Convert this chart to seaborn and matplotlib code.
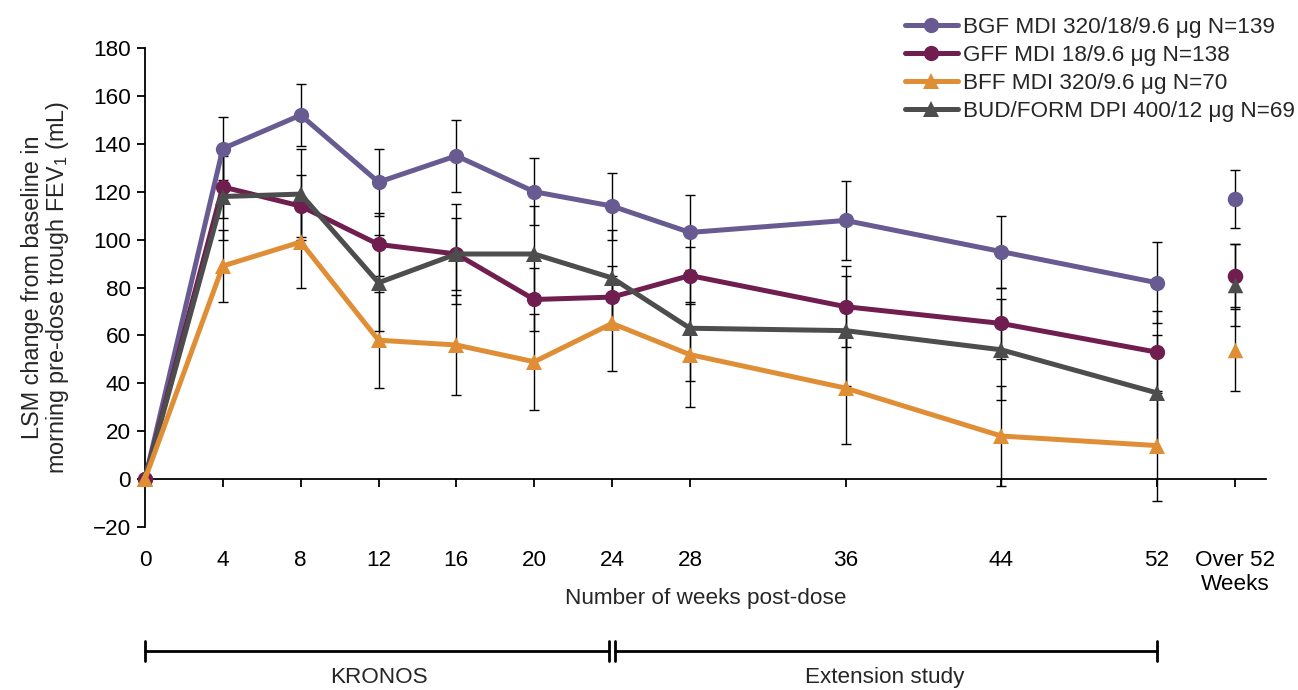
import numpy as np
import pandas as pd
import matplotlib
matplotlib.use("Agg")
import matplotlib.pyplot as plt
from matplotlib.lines import Line2D
import seaborn as sns

# --------------------------------------------
# DATA
# --------------------------------------------
weeks = [0, 4, 8, 12, 16, 20, 24, 28, 36, 44, 52]
over_week = 56  # position used for the "Over 52 Weeks" column
tick_labels = ["0", "4", "8", "12", "16", "20", "24", "28", "36", "44", "52", "Over 52\nWeeks"]

series = ["BGF MDI 320/18/9.6 μg N=139",
          "GFF MDI 18/9.6 μg N=138",
          "BFF MDI 320/9.6 μg N=70",
          "BUD/FORM DPI 400/12 μg N=69"]

bgf_mean = [0, 138, 152, 124, 135, 120, 114, 103, 108, 95, 82]
gff_mean = [0, 122, 114, 98, 94, 75, 76, 85, 72, 65, 53]
bff_mean = [0, 89, 99, 58, 56, 49, 65, 52, 38, 18, 14]
bud_mean = [0, 118, 119, 82, 94, 94, 84, 63, 62, 54, 36]

bgf_err = [0, 13, 13, 14, 15, 14, 14, 15.5, 16.5, 15, 17]
gff_err = [0, 13, 13, 13, 15, 13, 13, 12, 17, 15, 17]
bff_err = [0, 15, 19, 20, 21, 20, 20, 22, 23.5, 21, 23]
bud_err = [0, 18, 19, 20, 21, 20, 20, 22, 23, 21, 24]

over_mean = [117, 85, 54, 81]
over_err = [12, 13, 17, 17]

periods = ["KRONOS", "Extension study"]
period_start = [0, 24]
period_end = [24, 52]

colors = ["#675B91", "#701E50", "#E08E36", "#4D4D4D"]
markers = ["o", "o", "^", "^"]

means = [bgf_mean, gff_mean, bff_mean, bud_mean]
errs = [bgf_err, gff_err, bff_err, bud_err]

# --------------------------------------------
# SETTINGS
# --------------------------------------------
sns.set_style("ticks")
plt.rcParams["font.family"] = ["Liberation Sans", "DejaVu Sans"]
plt.rcParams["mathtext.default"] = "regular"
FS = 16.2

fig = plt.figure(figsize=(12.98, 6.9), dpi=100)
ax = fig.add_axes([0.1117, 0.2362, 0.8636, 0.6942])

# draw order: BGF, GFF, BUD, BFF (orange ends on top)
order = [0, 1, 3, 2]
for i in order:
    ax.errorbar(weeks, means[i], yerr=errs[i], fmt="none", ecolor="black",
                elinewidth=1.0, capsize=3.3, capthick=1.0, zorder=2, clip_on=False)
    ax.errorbar([over_week], [over_mean[i]], yerr=[over_err[i]], fmt="none",
                ecolor="black", elinewidth=1.0, capsize=3.3, capthick=1.0, zorder=2)

for z, i in enumerate(order):
    df = pd.DataFrame({"week": weeks, "value": means[i]})
    sns.lineplot(data=df, x="week", y="value", ax=ax, color=colors[i],
                 marker=markers[i], markersize=11, markeredgewidth=0,
                 linewidth=3.6, zorder=3 + z, clip_on=False)
    sns.scatterplot(x=[over_week], y=[over_mean[i]], ax=ax, color=colors[i],
                    marker=markers[i], s=125, linewidth=0, zorder=3 + z)

# --------------------------------------------
# AXES
# --------------------------------------------
ax.set_xlim(0, 57.6)
ax.set_ylim(-20, 180)
ax.set_yticks(np.arange(-20, 181, 20))
ax.set_yticklabels(["\u221220"] + [str(v) for v in range(0, 181, 20)])
ax.set_xticks(weeks + [over_week])
ax.set_xticklabels(tick_labels, linespacing=1.2)

for s in ["top", "right"]:
    ax.spines[s].set_visible(False)
ax.spines["bottom"].set_position(("data", 0))
ax.spines["left"].set_position(("data", 0))
for s in ["bottom", "left"]:
    ax.spines[s].set_linewidth(1.3)
    ax.spines[s].set_color("black")

ax.tick_params(axis="both", colors="black", labelsize=FS, width=1.3, length=6,
               direction="out")
ax.tick_params(axis="x", pad=45)
ax.tick_params(axis="y", pad=4)

ax.set_ylabel("LSM change from baseline in\nmorning pre-dose trough FEV$_1$ (mL)",
              fontsize=16.8, linespacing=1.0)
ax.yaxis.set_label_coords(-0.066, 0.5)
ax.set_xlabel("Number of weeks post-dose", fontsize=FS)
ax.xaxis.set_label_coords(0.5, -0.127)
ax.xaxis.label.set_va("top")

# study period brackets
trans = ax.get_xaxis_transform()
gap = 0.15
y_br = -0.2589
cap = 0.021
for k, (a, b) in enumerate(zip(period_start, period_end)):
    a2 = a + gap if k > 0 else a
    b2 = b - gap if k == 0 else b
    ax.plot([a2, b2], [y_br, y_br], color="black", lw=2.0, transform=trans, clip_on=False)
    for xe in (a2, b2):
        ax.plot([xe, xe], [y_br - cap, y_br + cap], color="black", lw=2.0,
                transform=trans, clip_on=False)
    ax.text((a + b) / 2, -0.315, periods[k], transform=trans, ha="center",
            va="center", fontsize=FS)

# legend
handles = [Line2D([0], [0], color=colors[i], marker=markers[i], lw=3.6,
                  markersize=11, markeredgewidth=0) for i in range(4)]
fig.legend(handles, series, loc="upper left", bbox_to_anchor=(0.697, 0.975),
           frameon=False, fontsize=FS, handlelength=2.35, handletextpad=0.22,
           labelspacing=0.3, borderpad=0, borderaxespad=0)

fig.savefig("out.png", dpi=100)
